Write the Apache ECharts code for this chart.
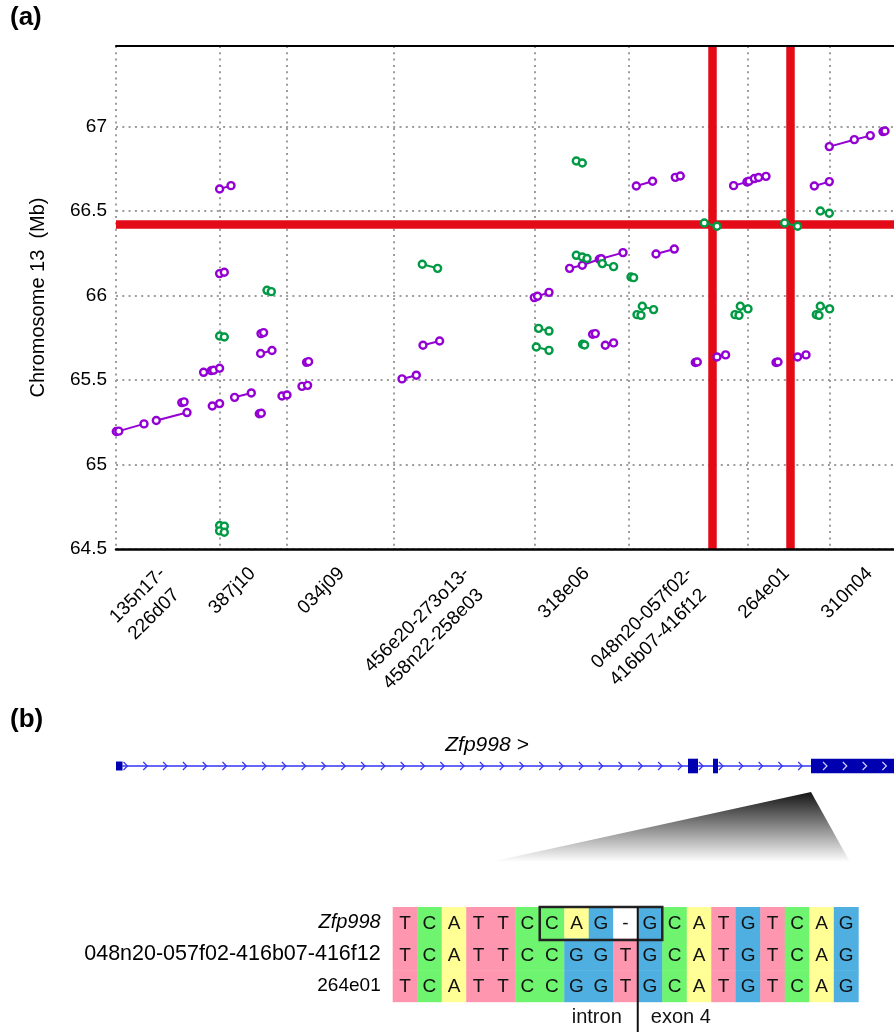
<!DOCTYPE html>
<html>
<head>
<meta charset="utf-8">
<script src="https://cdn.jsdelivr.net/npm/echarts@6.0.0/dist/echarts.min.js"></script>
<style>
  html, body { margin: 0; padding: 0; background: #fff; }
  #main { width: 894px; height: 1032px; }
</style>
</head>
<body>
<div id="main"></div>
<script>
// panel (a): clone-end pairs, x = position along the clone track, y = Mb on chr 13
var gridX = [0, 103.6, 170.3, 277.6, 418.3, 512.6, 632, 713.3];
var clonePos = [55.3, 145.3, 234.3, 359.3, 479.3, 582.3, 679.3, 762.3];
var cloneNames = ['135n17-\n226d07 ', '387j10', '034j09', '456e20-273o13-\n458n22-258e03 ',
  '318e06', '048n20-057f02-\n416b07-416f12 ', '264e01', '310n04'];
var yRange = [64.5, 67.475];
var redX = [595.8, 674.7];
var redY = [66.418];

var purpleGroups = [
  [[0.3, 65.195], [2.8, 65.197], [28, 65.240]],
  [[40.3, 65.260], [71, 65.307]],
  [[65.8, 65.366], [68.1, 65.370]],
  [[87.6, 65.545], [95.3, 65.555]],
  [[97.6, 65.557], [103.6, 65.569]],
  [[96.3, 65.346], [103.6, 65.360]],
  [[118.6, 65.397], [135.3, 65.423]],
  [[143.3, 65.300], [145.3, 65.303]],
  [[144.6, 65.656], [156, 65.674]],
  [[145, 65.774], [147.6, 65.780]],
  [[103.6, 66.629], [115, 66.649]],
  [[103.6, 66.129], [108.3, 66.137]],
  [[166, 65.405], [171, 65.411]],
  [[186, 65.462], [191.6, 65.468]],
  [[190.6, 65.604], [192.6, 65.608]],
  [[286, 65.506], [300.3, 65.528]],
  [[307, 65.705], [323.6, 65.730]],
  [[418.3, 65.987], [421.6, 65.995], [433, 66.018]],
  [[453.6, 66.160], [466.3, 66.178], [483.3, 66.214], [485.3, 66.217], [507, 66.253]],
  [[476.6, 65.770], [479.3, 65.774]],
  [[489.3, 65.705], [497.6, 65.719]],
  [[520.3, 66.647], [536.6, 66.675]],
  [[540, 66.245], [558.3, 66.274]],
  [[559.3, 66.698], [564.3, 66.706]],
  [[579.3, 65.603], [581.3, 65.606]],
  [[601, 65.636], [609.6, 65.648]],
  [[617.6, 66.649], [631, 66.671], [633, 66.675], [638.3, 66.691], [642.6, 66.697], [650, 66.704]],
  [[660, 65.603], [662, 65.606]],
  [[681.6, 65.636], [690, 65.648]],
  [[698.3, 66.647], [713.3, 66.673]],
  [[713.3, 66.880], [738.3, 66.921], [754.3, 66.945]],
  [[767, 66.969], [769, 66.972]]
];

var greenGroups = [
  [[151, 66.030], [155.3, 66.022]],
  [[103.6, 65.760], [108.3, 65.754]],
  [[103.6, 64.639], [108.3, 64.635]],
  [[103.6, 64.607], [108.3, 64.599]],
  [[306.3, 66.184], [321.6, 66.160]],
  [[460.3, 66.795], [466.3, 66.783]],
  [[460.3, 66.237], [466.3, 66.227], [471, 66.218]],
  [[486.3, 66.188], [497.6, 66.170]],
  [[515, 66.109], [517.6, 66.105]],
  [[422.6, 65.805], [433, 65.789]],
  [[420.3, 65.695], [433, 65.675]],
  [[466.6, 65.711], [468.6, 65.707]],
  [[526.3, 65.936], [537.6, 65.916]],
  [[521, 65.886], [525, 65.882]],
  [[588.3, 66.428], [601, 66.409]],
  [[668.6, 66.428], [681.6, 66.409]],
  [[704.3, 66.499], [713.3, 66.486]],
  [[624.3, 65.936], [632, 65.920]],
  [[619, 65.886], [623, 65.882]],
  [[704.3, 65.936], [713.6, 65.920]],
  [[700.3, 65.886], [703, 65.882]]
];

// panel (b): gene model (same arbitrary track units) and alignment
var geneSpan = [0, 778];
var geneExons = [[0, 6.5, 4.5], [572, 582, 7.3], [597, 602, 7.3], [695, 778, 7.3]];
var wedge = [[695, -26, 374, 734, -96]];

var seqNames = ['Zfp998', '048n20-057f02-416b07-416f12', '264e01'];
var seqs = ['TCATTCCAG-GCATGTCAG', 'TCATTCCGGTGCATGTCAG', 'TCATTCCGGTGCATGTCAG'];
var boxCols = [6, 10];
var boundaryCol = 10;

var FONT = 'Liberation Sans, Arial, Helvetica, sans-serif';
var PURPLE = '#9400d3';
var GREEN = '#009944';
var RED = '#e30b17';
var baseColors = { T: '#ff96b0', C: '#6ef46e', A: '#ffff96', G: '#4fafe0', '-': '#ffffff' };

var chart = echarts.init(document.getElementById('main'), null, { renderer: 'canvas' });

var dotted = { color: '#9d9d9d', width: 2, type: [2, 4.3] };

function pointSeries(groups, color) {
  return groups.map(function (g) {
    return {
      type: 'line',
      xAxisIndex: 0,
      yAxisIndex: 0,
      data: g,
      symbol: 'circle',
      symbolSize: 7,
      showSymbol: true,
      lineStyle: { color: color, width: 2 },
      itemStyle: { color: '#ffffff', borderColor: color, borderWidth: 2.4 },
      emphasis: { disabled: true },
      silent: true,
      z: 3
    };
  });
}

// introns are the gaps between exons
var introns = [];
var prevEnd = geneSpan[0];
geneExons.forEach(function (e) {
  if (e[0] > prevEnd) introns.push([prevEnd, e[0]]);
  prevEnd = Math.max(prevEnd, e[1]);
});
if (prevEnd < geneSpan[1]) introns.push([prevEnd, geneSpan[1]]);

function chevron(x, y, color) {
  return {
    type: 'polyline',
    shape: { points: [[x - 2, y - 4], [x + 2, y], [x - 2, y + 4]] },
    style: { stroke: color, lineWidth: 1.2, fill: null }
  };
}

function renderIntron(params, api) {
  var a = api.coord([api.value(0), 0]);
  var b = api.coord([api.value(1), 0]);
  var kids = [{
    type: 'line',
    shape: { x1: a[0], y1: a[1], x2: b[0], y2: b[1] },
    style: { stroke: '#3434f4', lineWidth: 1.6 }
  }];
  for (var x = a[0] + 3; x < b[0] - 3; x += 19.8) kids.push(chevron(x, a[1], '#3434f4'));
  return { type: 'group', children: kids };
}

function renderExon(params, api) {
  var h = api.value(2);
  var a = api.coord([api.value(0), h]);
  var b = api.coord([api.value(1), -h]);
  var kids = [{
    type: 'rect',
    shape: { x: a[0], y: a[1], width: b[0] - a[0], height: b[1] - a[1] },
    style: { fill: '#0000b0' }
  }];
  if (b[0] - a[0] > 20) {
    var mid = (a[1] + b[1]) / 2;
    for (var x = a[0] + 14; x < b[0] - 5; x += 19.8) kids.push(chevron(x, mid, '#d0d0ff'));
  }
  return { type: 'group', children: kids };
}

function renderWedge(params, api) {
  var apex = api.coord([api.value(0), api.value(1)]);
  var left = api.coord([api.value(2), api.value(4)]);
  var right = api.coord([api.value(3), api.value(4)]);
  return {
    type: 'polygon',
    shape: { points: [apex, right, left] },
    style: {
      fill: {
        type: 'linear', x: 0, y: 0, x2: 0, y2: 1,
        colorStops: [{ offset: 0, color: '#141414' }, { offset: 1, color: '#ffffff' }]
      }
    }
  };
}

var cells = [];
seqs.forEach(function (s, r) {
  for (var c = 0; c < s.length; c++) cells.push([c, r]);
});

function renderCell(params, api) {
  var col = api.value(0), row = api.value(1);
  var c = api.coord([col, row]);
  var s = api.size([1, 1]);
  var base = seqs[row].charAt(col);
  return {
    type: 'group',
    children: [
      { type: 'rect', shape: { x: c[0] - s[0] / 2, y: c[1] - s[1] / 2, width: s[0] + 0.4, height: s[1] + 0.4 },
        style: { fill: baseColors[base] } },
      { type: 'text', x: c[0], y: c[1] + 1,
        style: { text: base, fill: '#111', font: '19px ' + FONT, align: 'center', verticalAlign: 'middle' } }
    ]
  };
}

function renderBox(params, api) {
  var s = api.size([1, 1]);
  var c0 = api.coord([api.value(0), 0]);
  var c1 = api.coord([api.value(1), 0]);
  var cb = api.coord([boundaryCol, seqs.length - 1]);
  var x0 = c0[0] - s[0] / 2, x1 = c1[0] + s[0] / 2;
  var y0 = c0[1] - s[1] / 2, y1 = c0[1] + s[1] / 2 + 1.5;
  var bx = cb[0] - s[0] / 2;
  var ty = cb[1] + s[1] / 2 + 16;
  return {
    type: 'group',
    children: [
      { type: 'rect', shape: { x: x0, y: y0, width: x1 - x0, height: y1 - y0 },
        style: { stroke: '#222', lineWidth: 2.5, fill: null } },
      { type: 'line', shape: { x1: bx, y1: y0, x2: bx, y2: api.getHeight() },
        style: { stroke: '#111', lineWidth: 2 } },
      { type: 'text', x: bx - 16, y: ty,
        style: { text: 'intron', fill: '#111', font: '20px ' + FONT, align: 'right', verticalAlign: 'middle' } },
      { type: 'text', x: bx + 13, y: ty,
        style: { text: 'exon 4', fill: '#111', font: '20px ' + FONT, align: 'left', verticalAlign: 'middle' } }
    ]
  };
}

var option = {
  backgroundColor: '#ffffff',
  animation: false,
  textStyle: { fontFamily: FONT },
  grid: [
    { left: 116, top: 46, right: 0, height: 503, outerBoundsMode: 'none' },
    { left: 116, top: 752, right: 0, height: 110, outerBoundsMode: 'none' },
    { left: 392.7, top: 907, width: 465.6, height: 94.8, outerBoundsMode: 'none' }
  ],
  xAxis: [
    {
      gridIndex: 0, type: 'value', min: 0, max: 778, position: 'bottom',
      axisLine: { show: false },
      axisTick: { show: false, customValues: gridX },
      splitLine: { show: true, lineStyle: dotted },
      axisLabel: {
        customValues: clonePos,
        rotate: 45,
        margin: 30.5,
        fontSize: 19,
        lineHeight: 25,
        color: '#000',
        formatter: function (v) {
          for (var i = 0; i < clonePos.length; i++) {
            if (Math.abs(clonePos[i] - v) < 0.01) {
              var t = cloneNames[i];
              // one-line names get an empty second line so every first line sits alike
              return t.indexOf('\n') < 0 ? t + '\n ' : t;
            }
          }
          return '';
        }
      }
    },
    {
      gridIndex: 0, type: 'value', min: 0, max: 778, position: 'bottom', z: 5,
      axisLine: { show: true, onZero: false, lineStyle: { color: '#000', width: 2.5 } },
      axisTick: { show: false }, axisLabel: { show: false }, splitLine: { show: false }
    },
    {
      gridIndex: 0, type: 'value', min: 0, max: 778, position: 'top', z: 5,
      axisLine: { show: true, onZero: false, lineStyle: { color: '#000', width: 2 } },
      axisTick: { show: false }, axisLabel: { show: false }, splitLine: { show: false }
    },
    {
      gridIndex: 1, type: 'value', min: geneSpan[0], max: geneSpan[1], show: false
    },
    {
      gridIndex: 2, type: 'category', data: seqs[0].split('').map(function (c, i) { return i; }), show: false
    }
  ],
  yAxis: [
    {
      gridIndex: 0, type: 'value', min: yRange[0], max: yRange[1], interval: 0.5,
      axisLine: { show: false },
      axisTick: { show: false },
      axisLabel: { fontSize: 19, color: '#000', margin: 9, showMaxLabel: false },
      splitLine: { show: true, lineStyle: dotted },
      name: 'Chromosome 13  (Mb)',
      nameLocation: 'middle',
      nameGap: 68,
      nameTextStyle: { fontSize: 20, color: '#000' }
    },
    {
      gridIndex: 1, type: 'value', min: -96, max: 14, show: false
    },
    {
      gridIndex: 2, type: 'category', data: seqNames, inverse: true,
      axisLine: { show: false }, axisTick: { show: false },
      axisLabel: {
        fontSize: 19, color: '#000', margin: 12,
        formatter: function (v, i) {
          if (i === 0) return '{it|' + v + '}';
          if (i === 1) return '{wide|' + v + '}';
          return v;
        },
        rich: {
          it: { fontStyle: 'italic', fontSize: 20, color: '#000' },
          wide: { fontSize: 21.5, color: '#000' }
        }
      }
    }
  ],
  series: [
    {
      type: 'line', xAxisIndex: 0, yAxisIndex: 0, data: [], z: 1, silent: true,
      markLine: {
        z: 1, silent: true, symbol: ['none', 'none'], animation: false,
        label: { show: false },
        lineStyle: { color: RED, width: 8.5, type: 'solid' },
        emphasis: { disabled: true },
        data: redX.map(function (v) { return { xAxis: v }; })
          .concat(redY.map(function (v) { return { yAxis: v }; }))
      }
    }
  ].concat(pointSeries(purpleGroups, PURPLE), pointSeries(greenGroups, GREEN), [
    {
      type: 'custom', xAxisIndex: 3, yAxisIndex: 1, data: wedge, renderItem: renderWedge, silent: true, z: 1
    },
    {
      type: 'custom', xAxisIndex: 3, yAxisIndex: 1, data: introns, renderItem: renderIntron, silent: true, z: 2
    },
    {
      type: 'custom', xAxisIndex: 3, yAxisIndex: 1, data: geneExons, renderItem: renderExon, silent: true, z: 3
    },
    {
      type: 'custom', xAxisIndex: 4, yAxisIndex: 2, data: cells, renderItem: renderCell, silent: true, z: 2
    },
    {
      type: 'custom', xAxisIndex: 4, yAxisIndex: 2, data: [boxCols], renderItem: renderBox, silent: true, z: 4
    }
  ]),
  graphic: [
    { type: 'text', left: 10, top: 5, style: { text: '(a)', font: 'bold 26px ' + FONT, fill: '#000' } },
    { type: 'text', left: 10, top: 707, style: { text: '(b)', font: 'bold 26px ' + FONT, fill: '#000' } },
    { type: 'text', x: 487, y: 745, style: { text: 'Zfp998 >', font: 'italic 21px ' + FONT, fill: '#000',
      align: 'center', verticalAlign: 'middle' } }
  ]
};

chart.setOption(option);
</script>
</body>
</html>
